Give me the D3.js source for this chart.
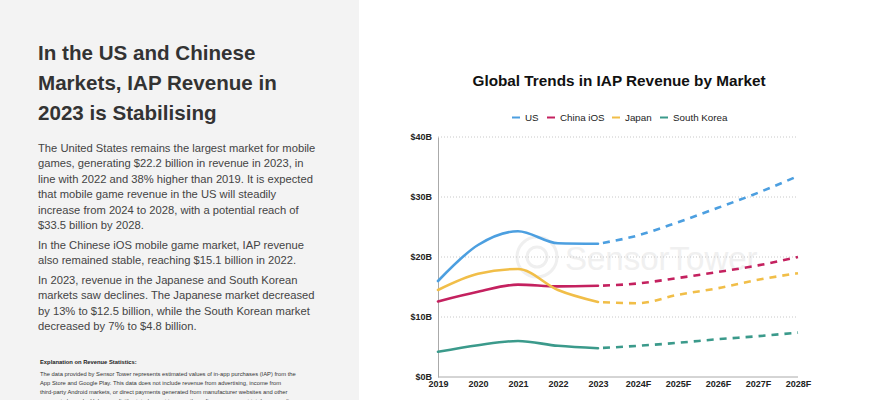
<!DOCTYPE html>
<html><head><meta charset="utf-8">
<script src="https://cdn.jsdelivr.net/npm/d3@7/dist/d3.min.js"></script>
<style>
html,body{margin:0;padding:0;background:#fff;}
svg{display:block;font-family:"Liberation Sans",Arial,Helvetica,sans-serif;}
</style></head>
<body>
<svg id="c" width="889" height="400"></svg>
<script>
const years = ["2019","2020","2021","2022","2023","2024F","2025F","2026F","2027F","2028F"];
const seriesNames = ["US","China iOS","Japan","South Korea"];
const usValues = [16.0,22.0,24.3,22.3,22.2,23.6,25.8,28.2,30.7,33.5];
const chinaValues = [12.6,14.2,15.4,15.1,15.2,15.6,16.5,17.5,18.6,20.0];
const japanValues = [14.5,17.2,18.0,14.5,12.5,12.3,13.7,14.8,16.2,17.3];
const koreaValues = [4.2,5.3,6.0,5.2,4.8,5.2,5.7,6.3,6.8,7.4];
const yTicks = [0,10,20,30,40];
const yTickLabels = ["$0B","$10B","$20B","$30B","$40B"];
const lastActualIndex = 4;

const headline = ["In the US and Chinese","Markets, IAP Revenue in","2023 is Stabilising"];
const paragraphs = [
 ["The United States remains the largest market for mobile","games, generating $22.2 billion in revenue in 2023, in","line with 2022 and 38% higher than 2019. It is expected","that mobile game revenue in the US will steadily","increase from 2024 to 2028, with a potential reach of","$33.5 billion by 2028."],
 ["In the Chinese iOS mobile game market, IAP revenue","also remained stable, reaching $15.1 billion in 2022."],
 ["In 2023, revenue in the Japanese and South Korean","markets saw declines. The Japanese market decreased","by 13% to $12.5 billion, while the South Korean market","decreased by 7% to $4.8 billion."]
];
const noteTitle = "Explanation on Revenue Statistics:";
const noteLines = ["The data provided by Sensor Tower represents estimated values of in-app purchases (IAP) from the","App Store and Google Play. This data does not include revenue from advertising, income from","third-party Android markets, or direct payments generated from manufacturer websites and other","payment channels. Unless explicitly stated as net income, these figures represent total revenue (i.e."];
const chartTitle = "Global Trends in IAP Revenue by Market";

const colors = ["#4c9fe0","#c4215f","#f1be48","#3b9a8b"];
const allValues = [usValues, chinaValues, japanValues, koreaValues];

const svg = d3.select("#c");

// left panel
svg.append("rect").attr("x",0).attr("y",0).attr("width",359).attr("height",400).attr("fill","#f3f3f3");
const hd = svg.append("text").attr("fill","#333").attr("font-weight","bold").attr("font-size",20.6);
headline.forEach((l,i)=>hd.append("tspan").attr("x",38).attr("y",60+i*30).text(l));
let py = 151.5;
paragraphs.forEach((p,pi)=>{
  const t = svg.append("text").attr("fill","#444").attr("font-size",11.2);
  p.forEach((l,i)=>{ t.append("tspan").attr("x",38).attr("y",py).text(l); py += 15.5; });
  py += 4;
});
svg.append("text").attr("x",40).attr("y",364).attr("font-size",5.8).attr("font-weight","bold").attr("fill","#222").text(noteTitle);
const nt = svg.append("text").attr("font-size",5.8).attr("fill","#333");
noteLines.forEach((l,i)=>nt.append("tspan").attr("x",40).attr("y",376+i*9).text(l));

// chart
const x = d3.scalePoint().domain(years).range([438,798]);
const y = d3.scaleLinear().domain([0,40]).range([377,137]);

svg.append("text").attr("x",619).attr("y",86).attr("text-anchor","middle").attr("font-weight","bold")
  .attr("font-size",15.3).attr("fill","#111").text(chartTitle);

// watermark
const wm = svg.append("g");
wm.append("circle").attr("cx",537).attr("cy",257).attr("r",20).attr("fill","none").attr("stroke","#efefef").attr("stroke-width",3);
wm.append("circle").attr("cx",537).attr("cy",257).attr("r",10).attr("fill","none").attr("stroke","#efefef").attr("stroke-width",3);
wm.append("text").attr("x",565).attr("y",270).attr("font-size",33).attr("fill","#f0f0f0").text("SensorTower");

// legend
const legX = [512,547,612,660];
seriesNames.forEach((n,i)=>{
  const g = svg.append("g");
  g.append("line").attr("x1",legX[i]).attr("x2",legX[i]+8).attr("y1",117.5).attr("y2",117.5).attr("stroke",colors[i]).attr("stroke-width",2);
  g.append("text").attr("x",legX[i]+13).attr("y",121).attr("font-size",9.8).attr("fill","#222").text(n);
});

// grid
svg.append("g").selectAll("line").data(yTicks.filter(d=>d>0)).join("line")
  .attr("x1",438).attr("x2",798).attr("y1",d=>y(d)).attr("y2",d=>y(d))
  .attr("stroke","#c8c8c8").attr("stroke-width",1).attr("stroke-dasharray","1,2");

// axes
const yAxis = svg.append("g").attr("transform","translate(438,0)")
  .call(d3.axisLeft(y).tickValues(yTicks).tickFormat((d,i)=>yTickLabels[i]).tickSize(0).tickPadding(6));
yAxis.select(".domain").attr("stroke","#aaa");
yAxis.selectAll("text").attr("font-size",9).attr("fill","#222").attr("font-weight","bold").attr("font-family","Liberation Sans, Arial, sans-serif");
const xAxis = svg.append("g").attr("transform","translate(0,377)")
  .call(d3.axisBottom(x).tickSize(0).tickPadding(4));
xAxis.select(".domain").attr("stroke","#aaa").attr("d","M438,0H798");
xAxis.selectAll("text").attr("font-size",9).attr("fill","#222").attr("font-weight","bold").attr("font-family","Liberation Sans, Arial, sans-serif");

// lines
const line = d3.line().x(d=>x(d.k)).y(d=>y(d.v)).curve(d3.curveMonotoneX);
allValues.forEach((vals,i)=>{
  const pts = years.map((k,j)=>({k,v:vals[j]}));
  svg.append("path").attr("d",line(pts.slice(0,lastActualIndex+1))).attr("fill","none")
    .attr("stroke",colors[i]).attr("stroke-width",2.6).attr("stroke-linecap","round");
  svg.append("path").attr("d",line(pts.slice(lastActualIndex))).attr("fill","none")
    .attr("stroke",colors[i]).attr("stroke-width",2.6).attr("stroke-dasharray","7,6").attr("stroke-dashoffset",-5);
});
</script>
</body></html>
